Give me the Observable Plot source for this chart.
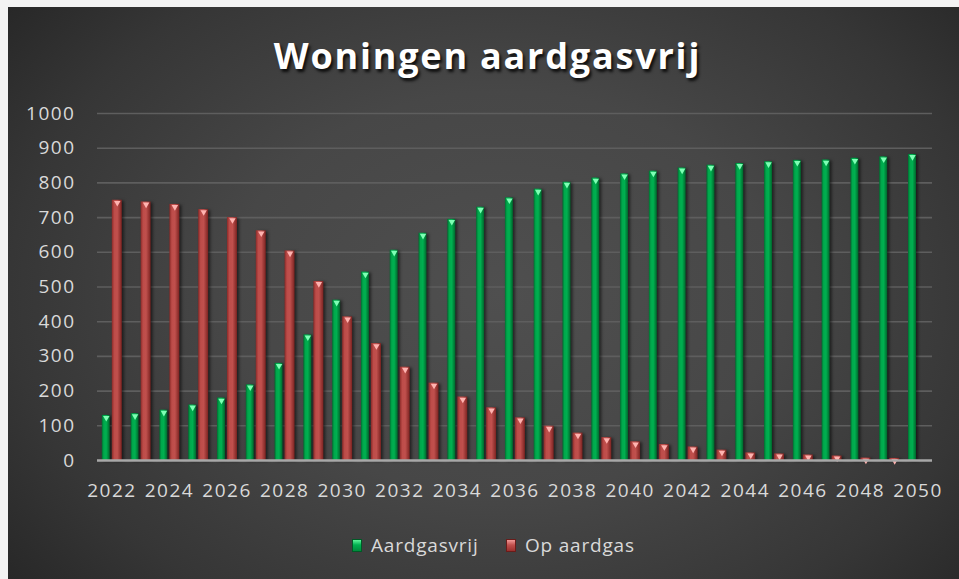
<!DOCTYPE html>
<html><head><meta charset="utf-8">
<script src="https://cdn.jsdelivr.net/npm/d3@7"></script>
<script src="https://cdn.jsdelivr.net/npm/@observablehq/plot@0.6"></script>
<style>
html,body{margin:0;padding:0;background:#f3f3f3;width:959px;height:579px;overflow:hidden;}
#chart{position:absolute;left:8px;top:7px;width:951px;height:572px;
  background:radial-gradient(ellipse 72% 88% at 52% 50%, #4f4f4f 0%, #474747 40%, #363636 72%, #222 100%);
  font-family:"Open Sans",sans-serif;}
#title{position:absolute;top:24px;left:8px;right:0;text-align:center;color:#fff;font-weight:700;font-size:36px;letter-spacing:1.8px;text-shadow:2px 3px 3px rgba(0,0,0,.8);}
#plot{position:absolute;left:0;top:0;}
#plot svg text{letter-spacing:1.5px;}
#plot g[aria-label="bar"]{filter:drop-shadow(2px 1px 1.5px rgba(0,0,0,.55));}
.leg{position:absolute;top:526px;height:24px;display:flex;align-items:center;color:#d9d9d9;font-size:19px;letter-spacing:0.8px;}
.sw{width:10px;height:13px;margin-right:9px;box-sizing:border-box;}
</style></head>
<body>
<div id="chart">
  <div id="title">Woningen aardgasvrij</div>
  <div id="plot"></div>
  <div class="leg" style="left:344px"><div class="sw" style="background:linear-gradient(to bottom,#5ef59a 0%,#00b050 45%,#008a3c 100%);border:1px solid #005a26"></div><span id="l1"></span></div>
  <div class="leg" style="left:498px"><div class="sw" style="background:linear-gradient(to bottom,#f29a98 0%,#c0504d 45%,#99302d 100%);border:1px solid #6a1c1a"></div><span id="l2"></span></div>
</div>
<script>
const seriesNames = ["Aardgasvrij", "Op aardgas"];
const years = [2022,2023,2024,2025,2026,2027,2028,2029,2030,2031,2032,2033,2034,2035,2036,2037,2038,2039,2040,2041,2042,2043,2044,2045,2046,2047,2048,2049,2050];
const aardgasvrij = [130,135,145,160,180,218,280,362,462,543,606,655,695,730,757,782,802,814,826,834,843,851,856,861,865,866,871,875,882];
const opAardgas = [750,745,738,723,700,662,604,516,414,337,269,223,183,152,123,99,79,66,54,46,39,30,22,19,16,13,7,6,0];
const yTicks = [0,100,200,300,400,500,600,700,800,900,1000];
const xTickLabels = [2022,2024,2026,2028,2030,2032,2034,2036,2038,2040,2042,2044,2046,2048,2050];

document.getElementById("l1").textContent = seriesNames[0];
document.getElementById("l2").textContent = seriesNames[1];

const rows = years.map((year, i) => ({year, green: aardgasvrij[i], red: opAardgas[i]}));

const plot = Plot.plot({
  width: 951, height: 520,
  marginTop: 106, marginBottom: 67, marginLeft: 89, marginRight: 27,
  style: {background: "transparent", color: "#d9d9d9", fontFamily: "Open Sans, sans-serif", fontSize: "19px", overflow: "visible"},
  x: {type: "band", domain: years, padding: 0, round: false},
  y: {domain: [0, 1000]},
  marks: [
    Plot.ruleY(yTicks.filter(d => d > 0), {stroke: "#5e5e5e", strokeWidth: 1.6}),
    Plot.barY(rows, {x: "year", y: "green", fill: "url(#gradGreen)", insetLeft: 4.8, insetRight: 16}),
    Plot.barY(rows, {x: "year", y: "red", fill: "url(#gradRed)", insetLeft: 14.8, insetRight: 4}),
    Plot.dot(rows, {x: "year", y: "green", symbol: "triangle", rotate: 180, r: 2.4, fill: "#7dffb4", stroke: "none", dx: -5.6, dy: 2.5}),
    Plot.dot(rows.filter(d => d.red > 0), {x: "year", y: "red", symbol: "triangle", rotate: 180, r: 2.4, fill: "#ffb3b0", stroke: "none", dx: 5.4, dy: 2.5}),
    Plot.ruleY([0], {stroke: "#a8a8a8", strokeWidth: 2.6}),
    Plot.axisY({ticks: yTicks, tickSize: 0, tickPadding: 22, label: null, tickFormat: "d", fill: "#d9d9d9"}),
    Plot.axisX({ticks: xTickLabels, tickSize: 0, tickPadding: 23, label: null, tickFormat: d => String(d), fill: "#d9d9d9"})
  ]
});

d3.select(plot).insert("defs", ":first-child").html(`
  <linearGradient id="gradGreen" x1="0" y1="0" x2="1" y2="0">
    <stop offset="0" stop-color="#006e30"/>
    <stop offset="0.25" stop-color="#00a84c"/>
    <stop offset="0.55" stop-color="#00b050"/>
    <stop offset="1" stop-color="#00662c"/>
  </linearGradient>
  <linearGradient id="gradRed" x1="0" y1="0" x2="1" y2="0">
    <stop offset="0" stop-color="#8a2a28"/>
    <stop offset="0.25" stop-color="#bd4c49"/>
    <stop offset="0.55" stop-color="#c0504d"/>
    <stop offset="1" stop-color="#7c2321"/>
  </linearGradient>`);

document.getElementById("plot").appendChild(plot);
</script>
</body></html>
